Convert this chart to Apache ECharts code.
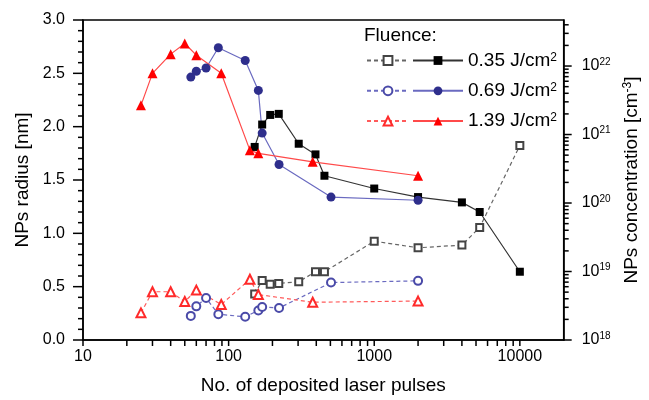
<!DOCTYPE html>
<html>
<head>
<meta charset="utf-8">
<script src="https://cdn.jsdelivr.net/npm/echarts@6/dist/echarts.min.js"></script>
<style>
  * { margin: 0; padding: 0; }
  body { background: #fff; }
  #main { width: 649px; height: 400px; }
</style>
</head>
<body>
<div id="main"></div>
<script>
// 0.35 J/cm2
var pulses035 = [151, 170, 193, 221, 303, 395, 455, 1000, 2000, 4000, 5300, 10000];
var radius035 = [1.81, 2.02, 2.11, 2.12, 1.84, 1.74, 1.54, 1.42, 1.34, 1.29, 1.20, 0.64];
var conc035 = [4.7e18, 7.4e18, 6.5e18, 6.7e18, 7.1e18, 9.9e18, 9.9e18, 2.77e19, 2.22e19, 2.43e19, 4.4e19, 6.9e20];
// 0.69 J/cm2
var pulses069 = [55, 60, 70, 85, 130, 160, 170, 222, 505, 2000];
var radius069 = [2.465, 2.52, 2.55, 2.74, 2.62, 2.34, 1.94, 1.645, 1.34, 1.31];
var conc069 = [2.25e18, 3.1e18, 4.1e18, 2.38e18, 2.18e18, 2.7e18, 3.03e18, 2.93e18, 6.9e18, 7.3e18];
// 1.39 J/cm2
var pulses139 = [25, 30, 40, 50, 60, 89, 140, 160, 378, 2000];
var radius139 = [2.20, 2.50, 2.68, 2.78, 2.67, 2.50, 1.78, 1.75, 1.67, 1.54];
var conc139 = [2.49e18, 5.06e18, 5.06e18, 3.64e18, 5.35e18, 3.3e18, 7.7e18, 4.6e18, 3.56e18, 3.7e18];

var fluences = ['0.35', '0.69', '1.39'];
var xLabelTicks = [10, 100, 1000, 10000];
var radiusLabelTicks = [0, 0.5, 1.0, 1.5, 2.0, 2.5, 3.0];
var concLabelTicks = [1e18, 1e19, 1e20, 1e21, 1e22];

var FONT = '"Liberation Sans", Arial, sans-serif';

// tick positions for the log axes (1..9 of each decade)
function decadeTicks(from, to, max) {
    var out = [];
    for (var e = from; e <= to; e++) {
        for (var m = 1; m < 10; m++) {
            var v = m * Math.pow(10, e);
            if (v <= max) out.push(v);
        }
    }
    return out;
}
var xTicks = decadeTicks(1, 4, 10000);
var concTicks = decadeTicks(18, 22, 4.7e22);
var radiusTicks = [];
for (var k = 0; k <= 30; k++) radiusTicks.push(k / 10);

function pairs(xs, ys) {
    return xs.map(function (x, i) { return [x, ys[i]]; });
}

var chart = echarts.init(document.getElementById('main'));

function solid(name, xs, ys, symbol, size, mark, line) {
    return {
        name: name, type: 'line', yAxisIndex: 0, z: 3,
        symbol: symbol, symbolSize: size,
        itemStyle: { color: mark },
        lineStyle: { color: line, width: 1.2 },
        data: pairs(xs, ys)
    };
}
function dashed(name, xs, ys, symbol, size, mark, line) {
    return {
        name: name, type: 'line', yAxisIndex: 1, z: 2,
        symbol: symbol, symbolSize: size,
        itemStyle: { color: mark, borderWidth: 1.2 },
        lineStyle: { color: line, width: 1.2, type: [4, 3] },
        data: pairs(xs, ys)
    };
}

// tick marks drawn through the axes' own scales
function tickLine(x1, y1, x2, y2) {
    return { type: 'line', shape: { x1: x1, y1: y1, x2: x2, y2: y2 }, style: { stroke: '#000', lineWidth: 1.5 } };
}
var tickSeries = [{
    type: 'custom', xAxisIndex: 0, yAxisIndex: 0, silent: true, clip: false, z: 5,
    data: xTicks.map(function (v) { return [v, 0]; }),
    renderItem: function (params, api) {
        var cs = params.coordSys;
        var x = api.coord([api.value(0), 0])[0];
        var yb = cs.y + cs.height;
        return tickLine(x, yb, x, yb + 6);
    }
}, {
    type: 'custom', xAxisIndex: 0, yAxisIndex: 0, silent: true, clip: false, z: 5,
    data: radiusTicks.map(function (v) { return [10, v]; }),
    renderItem: function (params, api) {
        var cs = params.coordSys;
        var v = api.value(1);
        var y = api.coord([10, v])[1];
        var major = Math.abs(v * 2 - Math.round(v * 2)) < 1e-6;
        return tickLine(cs.x - (major ? 10 : 5), y, cs.x, y);
    }
}, {
    type: 'custom', xAxisIndex: 0, yAxisIndex: 1, silent: true, clip: false, z: 5,
    data: concTicks.map(function (v) { return [10, v]; }),
    renderItem: function (params, api) {
        var cs = params.coordSys;
        var v = api.value(1);
        var y = api.coord([10, v])[1];
        var e = Math.log10(v);
        var major = Math.abs(e - Math.round(e)) < 1e-6;
        var xr = cs.x + cs.width;
        return tickLine(xr, y, xr + (major ? 8 : 5), y);
    }
}];

chart.setOption({
    backgroundColor: '#fff',
    animation: false,
    textStyle: { fontFamily: FONT },
    title: {
        text: 'Fluence:', left: 364, top: 26, padding: 0,
        textStyle: { fontFamily: FONT, fontSize: 19, fontWeight: 'normal', color: '#000' }
    },
    legend: [{
        data: ['c035', 'c069', 'c139'],
        orient: 'vertical', left: 366, top: 51, padding: 0,
        itemWidth: 42, itemHeight: 11, itemGap: 11.3,
        selectedMode: false,
        formatter: function () { return ' '; },
        textStyle: { fontFamily: FONT, fontSize: 19, lineHeight: 18 }
    }, {
        data: ['r035', 'r069', 'r139'],
        orient: 'vertical', left: 412, top: 51, padding: 0,
        itemWidth: 50, itemHeight: 11, itemGap: 11.3,
        selectedMode: false,
        formatter: function (name) {
            return '{t|' + fluences[['r035', 'r069', 'r139'].indexOf(name)] + ' J/cm}{s|2}';
        },
        textStyle: {
            fontFamily: FONT, fontSize: 19, lineHeight: 18, color: '#000',
            rich: {
                t: { fontFamily: FONT, fontSize: 19, lineHeight: 18, color: '#000' },
                s: { fontFamily: FONT, fontSize: 12, lineHeight: 10, verticalAlign: 'top', color: '#000' }
            }
        }
    }],
    grid: { left: 83, right: 82, top: 20, bottom: 53, show: true, borderColor: '#000', borderWidth: 1.5 },
    xAxis: {
        type: 'log', logBase: 10, min: 10, max: 20000,
        name: 'No. of deposited laser pulses', nameLocation: 'middle', nameGap: 36,
        nameTextStyle: { fontFamily: FONT, fontSize: 19, color: '#000' },
        axisLine: { show: true, lineStyle: { color: '#000', width: 1.5 } },
        axisTick: { show: false },
        axisLabel: {
            customValues: xLabelTicks, margin: 9,
            fontSize: 16, color: '#000',
            formatter: function (v) { return String(Math.round(v)); }
        },
        splitLine: { show: false }
    },
    yAxis: [{
        type: 'value', min: 0, max: 3, interval: 0.5, position: 'left',
        name: 'NPs radius [nm]', nameLocation: 'middle', nameGap: 50, nameRotate: 90,
        nameTextStyle: { fontFamily: FONT, fontSize: 19, color: '#000' },
        axisLine: { show: true, lineStyle: { color: '#000', width: 1.5 } },
        axisTick: { show: false },
        axisLabel: {
            customValues: radiusLabelTicks, margin: 18, fontSize: 16, color: '#000',
            formatter: function (v) { return Number(v).toFixed(1); }
        },
        splitLine: { show: false }
    }, {
        type: 'log', logBase: 10, min: 1e18, max: 4.7e22, position: 'right',
        name: '{t|NPs concentration [cm}{s|-3}{t|]}', nameLocation: 'middle', nameGap: 52, nameRotate: 90,
        nameTextStyle: {
            fontFamily: FONT, fontSize: 19, color: '#000',
            rich: {
                t: { fontFamily: FONT, fontSize: 19, lineHeight: 20, color: '#000' },
                s: { fontFamily: FONT, fontSize: 12, lineHeight: 10, verticalAlign: 'top', color: '#000' }
            }
        },
        axisLine: { show: true, lineStyle: { color: '#000', width: 1.5 } },
        axisTick: { show: false },
        axisLabel: {
            customValues: concLabelTicks, margin: 18,
            formatter: function (v) {
                return '{b|10}{e|' + Math.round(Math.log10(v)) + '}';
            },
            rich: {
                b: { fontFamily: FONT, fontSize: 16, lineHeight: 18, color: '#000' },
                e: { fontFamily: FONT, fontSize: 10, lineHeight: 10, verticalAlign: 'top', color: '#000' }
            }
        },
        splitLine: { show: false }
    }],
    series: [
        dashed('c035', pulses035, conc035, 'emptyRect', 7, '#444', '#666'),
        dashed('c069', pulses069, conc069, 'emptyCircle', 8, '#4a4aa8', '#6a6ac0'),
        dashed('c139', pulses139, conc139, 'emptyTriangle', 9, '#ff2a2a', '#ff5a5a'),
        solid('r035', pulses035, radius035, 'rect', 8, '#000', '#333'),
        solid('r069', pulses069, radius069, 'circle', 9, '#2e2e8c', '#6a6ac0'),
        solid('r139', pulses139, radius139, 'triangle', 10, '#ff0000', '#ff4a4a')
    ].concat(tickSeries)
});
</script>
</body>
</html>
